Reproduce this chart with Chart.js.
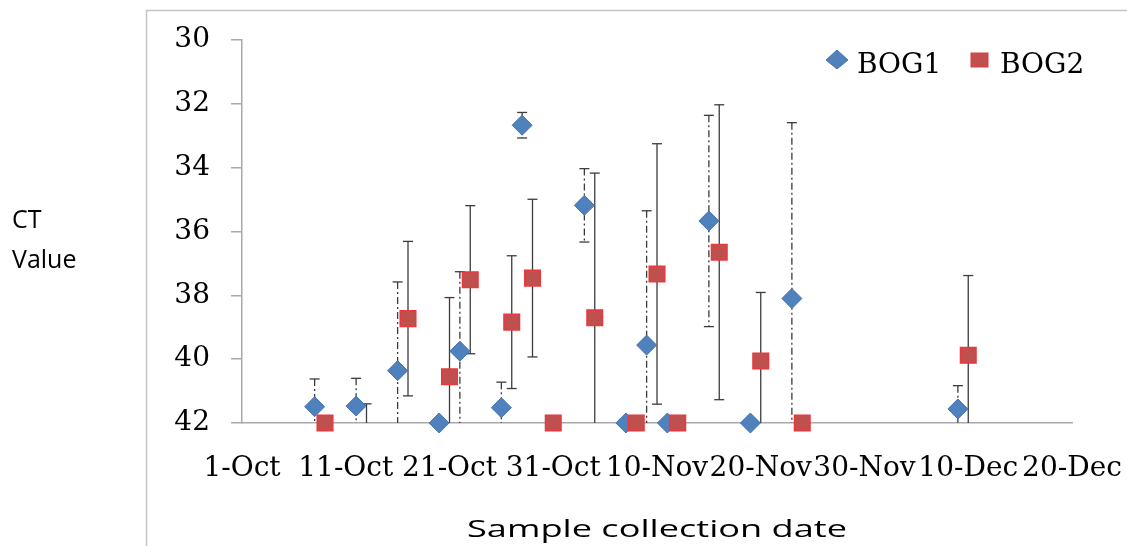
<!DOCTYPE html>
<html>
<head>
<meta charset="utf-8">
<script src="https://cdn.jsdelivr.net/npm/chart.js@4/dist/chart.umd.min.js"></script>
<style>
  body { margin: 0; background: #fff; }
  canvas { display: block; }
</style>
</head>
<body>
<canvas id="ctChart" width="1127" height="546"></canvas>
<script>
// x values are days after 1-Oct
var tickLabels = ['1-Oct', '11-Oct', '21-Oct', '31-Oct', '10-Nov', '20-Nov', '30-Nov', '10-Dec', '20-Dec'];

var bog1Days = [7, 11, 15, 19, 21, 25, 27, 33, 37, 39, 41, 45, 49, 53, 69];
var bog1Ct   = [41.49, 41.47, 40.36, 42.0, 39.75, 41.52, 32.67, 35.18, 42.0, 39.56, 42.0, 35.67, 42.0, 38.10, 41.56];
var bog1Err  = [0.87, 0.87, 2.78, 0, 2.49, 0.8, 0.4, 1.15, 0, 4.21, 0, 3.31, 0, 5.51, 0.73];

var bog2Days = [8, 12, 16, 20, 22, 26, 28, 30, 34, 38, 40, 42, 46, 50, 54, 70];
var bog2Ct   = [42.0, 42.8, 38.73, 40.55, 37.51, 38.84, 37.46, 42.0, 38.70, 42.0, 37.33, 42.0, 36.65, 40.06, 42.0, 39.88];
var bog2Err  = [0, 1.4, 2.42, 2.48, 2.32, 2.08, 2.47, 0, 4.53, 0, 4.08, 0, 4.62, 2.15, 0, 2.5];

var yTitle = ['CT', 'Value'];
var xTitle = 'Sample collection date';

var axisGray = '#a9a9a9';
var tickFont = { family: '"DejaVu Serif", serif', size: 28 };

function toPoints(days, values) {
  return days.map(function (d, i) { return { x: d, y: values[i] }; });
}

// vertical error bars, clipped to the plot area like Excel does
var errorBars = {
  id: 'errorBars',
  beforeDatasetsDraw: function (chart) {
    var ctx = chart.ctx;
    var area = chart.chartArea;
    var yScale = chart.scales.y;
    ctx.save();
    ctx.beginPath();
    ctx.rect(area.left - 20, area.top - 1, area.right - area.left + 40, area.bottom - area.top + 1);
    ctx.clip();
    ctx.strokeStyle = '#3c3c3c';
    ctx.lineWidth = 1.3;
    chart.data.datasets.forEach(function (ds, i) {
      var meta = chart.getDatasetMeta(i);
      meta.data.forEach(function (pt, j) {
        var e = ds.errors[j];
        if (!e) return;
        var v = ds.data[j].y;
        ctx.setLineDash(ds.errorDash);
        ctx.beginPath();
        ctx.moveTo(pt.x, yScale.getPixelForValue(v - e));
        ctx.lineTo(pt.x, yScale.getPixelForValue(v + e));
        ctx.stroke();
        ctx.setLineDash([]);
        [v - e, v + e].forEach(function (end) {
          if (end < yScale.min || end > yScale.max) return;
          var py = yScale.getPixelForValue(end);
          ctx.beginPath();
          ctx.moveTo(pt.x - 5, py);
          ctx.lineTo(pt.x + 5, py);
          ctx.stroke();
        });
      });
    });
    ctx.restore();
  }
};

// outer frame, axis titles and legend
var decorations = {
  id: 'decorations',
  afterDraw: function (chart) {
    var ctx = chart.ctx;
    var area = chart.chartArea;
    var sets = chart.data.datasets;
    ctx.save();

    ctx.strokeStyle = '#c4c4c4';
    ctx.lineWidth = 1.5;
    ctx.beginPath();
    ctx.moveTo(146.5, 546);
    ctx.lineTo(146.5, 10.5);
    ctx.lineTo(1127, 10.5);
    ctx.stroke();

    ctx.fillStyle = '#000';
    ctx.textAlign = 'left';
    ctx.textBaseline = 'alphabetic';
    ctx.font = '25px "Open Sans"';
    ctx.fillText(yTitle[0], 12, 228);
    ctx.fillText(yTitle[1], 12, 268);

    ctx.save();
    ctx.font = '23px "Open Sans"';
    var w = ctx.measureText(xTitle).width;
    ctx.translate((area.left + area.right) / 2, 537);
    ctx.scale(380 / w, 1);
    ctx.textAlign = 'center';
    ctx.fillText(xTitle, 0, 0);
    ctx.restore();

    // legend
    ctx.font = '28px "DejaVu Serif"';
    ctx.fillStyle = sets[0].backgroundColor;
    ctx.strokeStyle = sets[0].borderColor;
    ctx.lineWidth = 1;
    ctx.beginPath();
    ctx.moveTo(837, 50);
    ctx.lineTo(848, 60);
    ctx.lineTo(837, 69);
    ctx.lineTo(826, 60);
    ctx.closePath();
    ctx.fill();
    ctx.stroke();
    ctx.fillStyle = '#000';
    ctx.fillText(sets[0].label, 857, 73);

    ctx.fillStyle = sets[1].backgroundColor;
    ctx.strokeStyle = sets[1].borderColor;
    ctx.fillRect(971, 53, 17, 14);
    ctx.strokeRect(971, 53, 17, 14);
    ctx.fillStyle = '#000';
    ctx.fillText(sets[1].label, 1000, 73);

    ctx.restore();
  }
};

new Chart(document.getElementById('ctChart'), {
  type: 'scatter',
  data: {
    datasets: [
      {
        label: 'BOG1',
        data: toPoints(bog1Days, bog1Ct),
        errors: bog1Err,
        errorDash: [7, 3, 2, 3],
        order: 1,
        pointStyle: 'rectRot',
        pointRadius: 10,
        backgroundColor: '#4F81BD',
        borderColor: '#4672AE',
        borderWidth: 1,
        clip: { left: 20, top: 20, right: 20, bottom: 10 }
      },
      {
        label: 'BOG2',
        data: toPoints(bog2Days, bog2Ct),
        errors: bog2Err,
        errorDash: [],
        order: 0,
        pointStyle: 'rect',
        pointRadius: 11,
        backgroundColor: '#C0504D',
        borderColor: '#E8393F',
        borderWidth: 1.5,
        clip: { left: 20, top: 20, right: 20, bottom: 10 }
      }
    ]
  },
  options: {
    responsive: false,
    animation: false,
    events: [],
    layout: { padding: { top: 40, right: 55, bottom: 0, left: 0 } },
    plugins: {
      legend: { display: false },
      tooltip: { enabled: false }
    },
    scales: {
      x: {
        type: 'linear',
        min: 0,
        max: 80,
        afterFit: function (s) { s.height = 123; },
        afterBuildTicks: function (s) {
          s.ticks = tickLabels.map(function (t, i) { return { value: i * 10 }; });
        },
        ticks: {
          autoSkip: false,
          maxRotation: 0,
          padding: 0,
          color: '#000',
          font: tickFont,
          callback: function (v) { return tickLabels[Math.round(v / 10)]; }
        },
        // invisible tick marks only push the labels down
        grid: { drawOnChartArea: false, drawTicks: true, tickLength: 29, color: 'rgba(0,0,0,0)' },
        border: { color: axisGray, width: 1.5 }
      },
      y: {
        reverse: true,
        min: 30,
        max: 42,
        afterFit: function (s) { s.width = 242; },
        ticks: { stepSize: 2, padding: 21, color: '#000', font: tickFont },
        grid: { drawOnChartArea: false, tickLength: 11, color: axisGray, lineWidth: 1.5 },
        border: { color: axisGray, width: 1.5 }
      }
    }
  },
  plugins: [errorBars, decorations]
});
</script>
</body>
</html>
